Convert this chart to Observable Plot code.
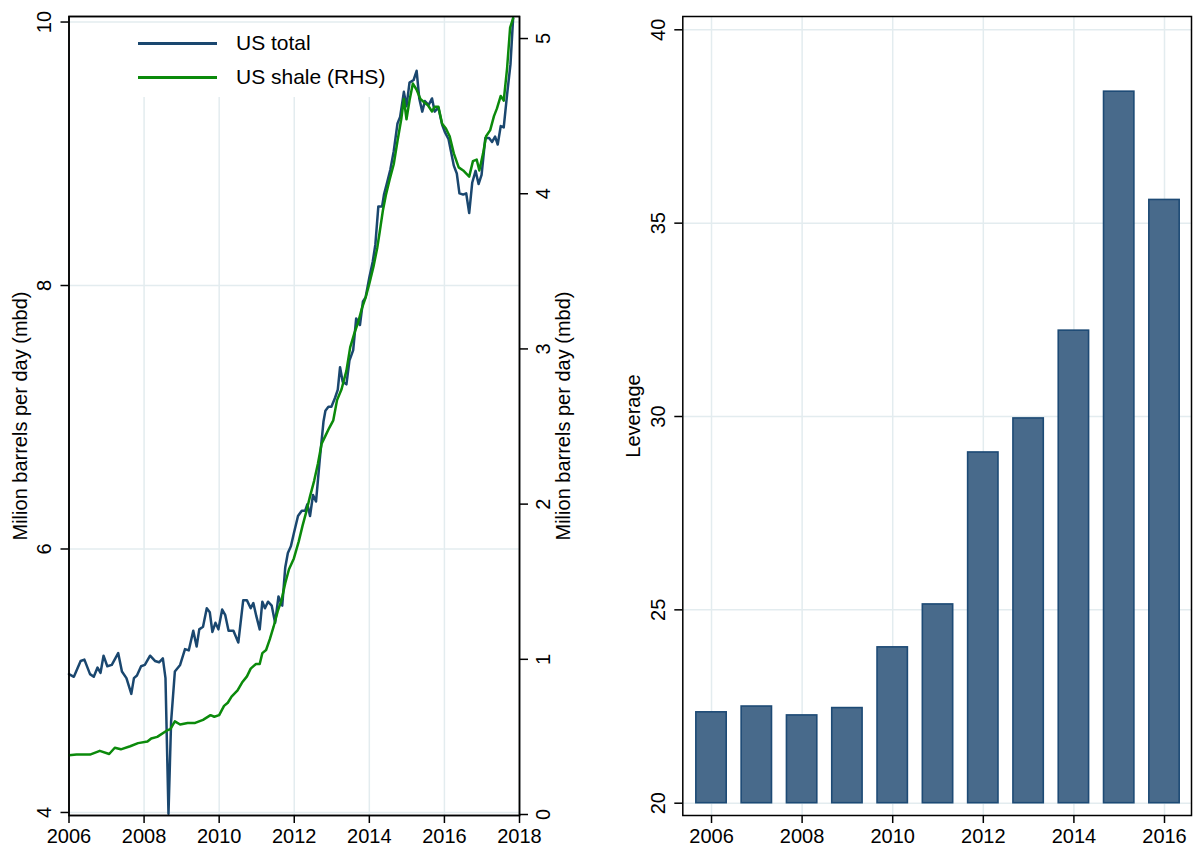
<!DOCTYPE html>
<html><head><meta charset="utf-8">
<script src="https://cdn.jsdelivr.net/npm/d3@7"></script>
<script src="https://cdn.jsdelivr.net/npm/@observablehq/plot@0.6"></script>
<style>
body{margin:0;background:#fff;}
#wrap{position:relative;width:1193px;height:846px;font-family:"Liberation Sans",Arial,sans-serif;overflow:hidden;}
#wrap svg{position:absolute;top:0;}
.leg{position:absolute;left:118px;top:18px;width:282px;height:79px;}
.leg .ln{position:absolute;left:20px;width:79px;height:2.7px;}
.leg .tx{position:absolute;left:118px;font-size:21px;line-height:22px;color:#000;white-space:nowrap;}
</style></head><body><div id="wrap"></div>
<script>
// ---- Left panel: US crude oil production (million barrels per day) ----
const totalYear = [2006.00,2006.13,2006.31,2006.41,2006.56,2006.66,2006.76,2006.84,2006.92,2007.02,2007.14,2007.31,2007.41,2007.53,2007.66,2007.73,2007.81,2007.92,2008.02,2008.16,2008.29,2008.40,2008.50,2008.57,2008.65,2008.72,2008.82,2008.96,2009.09,2009.19,2009.31,2009.40,2009.47,2009.57,2009.67,2009.75,2009.82,2009.90,2009.98,2010.08,2010.16,2010.25,2010.38,2010.51,2010.64,2010.74,2010.84,2010.91,2010.99,2011.08,2011.15,2011.22,2011.30,2011.40,2011.49,2011.58,2011.68,2011.76,2011.83,2011.91,2011.99,2012.10,2012.20,2012.29,2012.35,2012.42,2012.50,2012.58,2012.68,2012.78,2012.83,2012.91,2012.99,2013.09,2013.16,2013.22,2013.29,2013.39,2013.47,2013.57,2013.65,2013.75,2013.83,2013.90,2014.00,2014.09,2014.16,2014.24,2014.34,2014.39,2014.48,2014.56,2014.65,2014.75,2014.82,2014.92,2014.99,2015.07,2015.18,2015.26,2015.33,2015.41,2015.48,2015.58,2015.67,2015.74,2015.84,2015.94,2016.02,2016.11,2016.25,2016.33,2016.40,2016.50,2016.58,2016.66,2016.74,2016.83,2016.91,2016.99,2017.09,2017.19,2017.27,2017.35,2017.42,2017.50,2017.58,2017.67,2017.76,2017.83];
const totalValue = [5.05,5.03,5.15,5.16,5.05,5.03,5.10,5.06,5.19,5.11,5.12,5.21,5.07,5.02,4.90,5.02,5.04,5.11,5.12,5.19,5.15,5.14,5.17,5.02,3.99,4.69,5.07,5.12,5.24,5.23,5.38,5.26,5.39,5.41,5.55,5.52,5.37,5.44,5.39,5.54,5.50,5.38,5.38,5.29,5.61,5.61,5.55,5.59,5.49,5.39,5.60,5.55,5.60,5.57,5.44,5.64,5.57,5.86,5.97,6.02,6.12,6.25,6.29,6.29,6.34,6.25,6.41,6.36,6.68,6.97,7.05,7.08,7.08,7.15,7.21,7.38,7.27,7.25,7.43,7.51,7.75,7.70,7.88,7.91,8.06,8.18,8.31,8.60,8.60,8.69,8.79,8.88,9.02,9.23,9.28,9.47,9.36,9.54,9.56,9.63,9.42,9.32,9.40,9.37,9.42,9.32,9.35,9.22,9.16,9.11,8.91,8.85,8.70,8.69,8.70,8.55,8.78,8.87,8.77,8.84,9.12,9.12,9.09,9.13,9.07,9.21,9.20,9.45,9.68,10.03];
const shaleYear = [2006.00,2006.20,2006.56,2006.82,2007.07,2007.22,2007.38,2007.63,2007.84,2008.09,2008.19,2008.35,2008.60,2008.70,2008.82,2008.96,2009.16,2009.36,2009.57,2009.77,2009.87,2010.00,2010.13,2010.23,2010.33,2010.49,2010.61,2010.74,2010.84,2010.98,2011.08,2011.15,2011.25,2011.35,2011.45,2011.56,2011.66,2011.76,2011.86,2011.99,2012.12,2012.22,2012.32,2012.42,2012.53,2012.63,2012.73,2012.83,2012.93,2013.04,2013.14,2013.26,2013.39,2013.49,2013.60,2013.70,2013.80,2013.90,2014.00,2014.11,2014.21,2014.28,2014.36,2014.44,2014.54,2014.65,2014.75,2014.85,2014.92,2014.99,2015.07,2015.16,2015.26,2015.36,2015.46,2015.56,2015.67,2015.74,2015.84,2015.94,2016.04,2016.14,2016.25,2016.38,2016.50,2016.66,2016.76,2016.86,2016.93,2017.03,2017.11,2017.22,2017.32,2017.40,2017.50,2017.58,2017.67,2017.75,2017.83];
const shaleValue = [0.382,0.386,0.386,0.41,0.39,0.43,0.42,0.44,0.46,0.47,0.49,0.50,0.54,0.55,0.60,0.58,0.59,0.59,0.61,0.64,0.63,0.64,0.70,0.72,0.76,0.80,0.85,0.89,0.94,0.97,0.97,1.04,1.06,1.13,1.21,1.31,1.38,1.49,1.58,1.65,1.76,1.86,1.95,2.05,2.15,2.26,2.39,2.44,2.49,2.54,2.67,2.74,2.86,3.01,3.10,3.17,3.26,3.33,3.42,3.53,3.65,3.76,3.89,3.99,4.09,4.19,4.34,4.48,4.61,4.48,4.60,4.71,4.67,4.61,4.59,4.57,4.53,4.56,4.56,4.45,4.42,4.37,4.26,4.17,4.15,4.11,4.21,4.22,4.15,4.26,4.37,4.41,4.50,4.55,4.63,4.60,4.81,5.07,5.13];
const lineXTicks = [2006,2008,2010,2012,2014,2016,2018];
const leftYTicks = [4,6,8,10];
const rightYTicks = [0,1,2,3,4,5];
const leftTitle = "Milion barrels per day (mbd)";
const rightTitle = "Milion barrels per day (mbd)";
const seriesNames = ["US total","US shale (RHS)"];

// ---- Right panel: leverage ----
const barYears = [2006,2007,2008,2009,2010,2011,2012,2013,2014,2015,2016];
const leverage = [22.35,22.50,22.27,22.46,24.03,25.14,29.07,29.95,32.22,38.40,35.60];
const barXTicks = [2006,2008,2010,2012,2014,2016];
const barYTicks = [20,25,30,35,40];
const barTitle = "Leverage";

const NAVY = "#1a476f", GREEN = "#0b8a0b", GRID = "#e3ecef";
const FONT = "'Liberation Sans', Arial, sans-serif";
const fmt = d => String(d);
const total = totalYear.map((x,i)=>({x, y: totalValue[i]}));
const shale = shaleYear.map((x,i)=>({x, y: shaleValue[i]}));
const bars = barYears.map((year,i)=>({year, lev: leverage[i]}));

const common = {fontFamily: FONT, background: "transparent", overflow: "visible"};
const wrap = document.getElementById("wrap");
const axisStyle = {fontSize: 20, stroke: "#000", strokeWidth: 1.5, fill: "#000", label: null, tickFormat: fmt};

const LY = [3.977, 10.042];
// vertical grid lines stop under the legend box (2008–2014), like the reference
const legendBottom = 9.427;
const gridXLeft = lineXTicks.map(t => ({t, top: (t >= 2008 && t <= 2014) ? legendBottom : LY[1]}));

// base left plot (left axis, blue series)
const left = Plot.plot({
  width: 600, height: 846,
  marginLeft: 68.5, marginRight: 81, marginTop: 16, marginBottom: 31,
  style: common,
  x: {domain: [2006, 2018]},
  y: {domain: LY},
  marks: [
    Plot.ruleX(gridXLeft, {x: "t", y1: LY[0], y2: "top", stroke: GRID, strokeWidth: 1.5}),
    Plot.gridY(leftYTicks, {stroke: GRID, strokeOpacity: 1, strokeWidth: 1.5}),
    Plot.line(total, {x: "x", y: "y", stroke: NAVY, strokeWidth: 2.5}),
    Plot.axisX(lineXTicks, {...axisStyle, tickSize: 8, tickPadding: 5}),
    Plot.axisY(leftYTicks, {...axisStyle, anchor: "left", tickSize: 8, tickPadding: 10, tickRotate: -90, lineAnchor: "bottom", textAnchor: "middle"}),
    Plot.text([leftTitle], {frameAnchor: "left", dx: -48.5, rotate: -90, fontSize: 20, fill: "#000", textAnchor: "middle", lineAnchor: "middle"}),
    Plot.frame({stroke: "#000", strokeWidth: 1.5})
  ]
});
left.style.left = "0px";
wrap.appendChild(left);

// overlay for the right axis (green series)
const right = Plot.plot({
  width: 600, height: 846,
  marginLeft: 68.5, marginRight: 81, marginTop: 16, marginBottom: 31,
  style: common,
  x: {domain: [2006, 2018], axis: null},
  y: {domain: [-0.0064, 5.142], axis: null},
  marks: [
    Plot.line(shale, {x: "x", y: "y", stroke: GREEN, strokeWidth: 2.5, clip: true}),
    Plot.axisY(rightYTicks, {...axisStyle, anchor: "right", tickSize: 8, tickPadding: 8, tickRotate: -90, lineAnchor: "top", textAnchor: "middle"}),
    Plot.text([rightTitle], {frameAnchor: "right", dx: 44, rotate: -90, fontSize: 20, fill: "#000", textAnchor: "middle", lineAnchor: "middle"}),
    Plot.frame({stroke: "#000", strokeWidth: 1.5})
  ]
});
right.style.left = "0px";
right.style.pointerEvents = "none";
wrap.appendChild(right);

// legend (HTML)
const leg = document.createElement("div");
leg.className = "leg";
[NAVY, GREEN].forEach((c, i) => {
  const cy = (i === 0 ? 43.3 : 77.3) - 18;
  const ln = document.createElement("div");
  ln.className = "ln"; ln.style.background = c; ln.style.top = (cy - 1.35) + "px";
  const tx = document.createElement("div");
  tx.className = "tx"; tx.textContent = seriesNames[i]; tx.style.top = (cy - 11) + "px";
  leg.appendChild(ln); leg.appendChild(tx);
});
wrap.appendChild(leg);

// right panel bars
const barPlot = Plot.plot({
  width: 593, height: 846,
  marginLeft: 82.3, marginRight: 2, marginTop: 16, marginBottom: 31,
  style: common,
  x: {domain: [2005.366, 2016.596]},
  y: {domain: [19.682, 40.344]},
  marks: [
    Plot.gridX(barXTicks, {stroke: GRID, strokeOpacity: 1, strokeWidth: 1.5}),
    Plot.gridY(barYTicks, {stroke: GRID, strokeOpacity: 1, strokeWidth: 1.5}),
    Plot.rect(bars, {x1: d => d.year - 0.335, x2: d => d.year + 0.335, y1: 20, y2: "lev", fill: "#486a8b", stroke: "#1d4a75", strokeWidth: 1.6}),
    Plot.axisX(barXTicks, {...axisStyle, tickSize: 8, tickPadding: 5}),
    Plot.axisY(barYTicks, {...axisStyle, anchor: "left", tickSize: 8, tickPadding: 10, tickRotate: -90, lineAnchor: "bottom", textAnchor: "middle"}),
    Plot.text([barTitle], {frameAnchor: "left", dx: -49, rotate: -90, fontSize: 20, fill: "#000", textAnchor: "middle", lineAnchor: "middle"}),
    Plot.frame({stroke: "#000", strokeWidth: 1.5})
  ]
});
barPlot.style.left = "600px";
wrap.appendChild(barPlot);
</script></body></html>
